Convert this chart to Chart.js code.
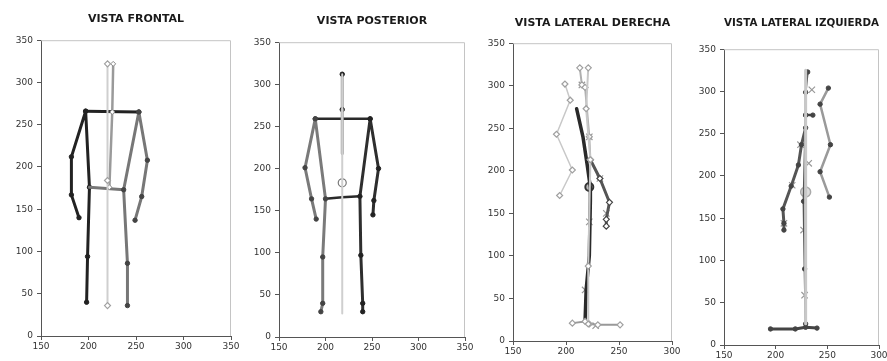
<!DOCTYPE html>
<html>
<head>
<meta charset="utf-8">
<script src="https://cdn.jsdelivr.net/npm/chart.js@4"></script>
<style>
body { margin: 0; background: #fff; width: 887px; height: 361px; position: relative; overflow: hidden; }
canvas { position: absolute; top: 0; filter: blur(0.35px); }
</style>
</head>
<body>
<canvas id="frontal" width="240" height="361" style="left:0px"></canvas>
<canvas id="posterior" width="235" height="361" style="left:240px"></canvas>
<canvas id="derecha" width="205" height="361" style="left:475px"></canvas>
<canvas id="izquierda" width="207" height="361" style="left:680px"></canvas>
<script>
// VISTA FRONTAL
const frontalLeftX = [190, 182, 182, 197, 201, 199, 198];
const frontalLeftY = [140, 167, 212, 266, 176, 94, 40];
const frontalRightX = [249, 256, 262, 253, 237, 241, 241];
const frontalRightY = [137, 165, 208, 265, 173, 86, 36];
const frontalShoulderX = [197, 253];
const frontalShoulderY = [266, 265];
const frontalHipX = [201, 237];
const frontalHipY = [176, 173];
const frontalPlumbX = [220, 220, 220];
const frontalPlumbY = [322, 184, 36];
const frontalSpineX = [226, 225, 222];
const frontalSpineY = [322, 265, 176];

// VISTA POSTERIOR
const posteriorLeftX = [190, 185, 178, 189, 200, 197, 197, 195];
const posteriorLeftY = [140, 164, 201, 259, 164, 95, 40, 30];
const posteriorRightX = [251, 252, 257, 248, 237, 238, 240, 240];
const posteriorRightY = [145, 162, 200, 259, 167, 97, 40, 30];
const posteriorShoulderX = [189, 248];
const posteriorShoulderY = [259, 259];
const posteriorHipX = [200, 218, 237];
const posteriorHipY = [164, 166, 167];
const posteriorPlumbX = [218, 218];
const posteriorPlumbY = [312, 28];
const posteriorHeadX = [218, 218];
const posteriorHeadY = [312, 270];
const posteriorNeckX = [218, 218];
const posteriorNeckY = [270, 218];
const posteriorCogX = [218];
const posteriorCogY = [183];

// VISTA LATERAL DERECHA
const derechaBackX = [199, 204, 191, 206, 194];
const derechaBackY = [302, 283, 243, 201, 171];
const derechaPlumbX = [221, 219, 223, 221, 221];
const derechaPlumbY = [321, 273, 213, 88, 20];
const derechaHeadX = [213, 215, 218, 222, 223];
const derechaHeadY = [321, 301, 298, 240, 213];
const derechaTrunkX = [210, 216, 220, 223, 223, 222, 219, 218];
const derechaTrunkY = [273, 240, 207, 180, 165, 100, 60, 24];
const derechaArmX = [223, 232, 241, 238, 238];
const derechaArmY = [213, 191, 163, 143, 135];
const derechaFootX = [206, 218, 222, 230, 251];
const derechaFootY = [21, 23, 20, 19, 19];
const derechaCrossX = [215, 222, 232, 238, 222, 218, 228];
const derechaCrossY = [301, 240, 191, 150, 140, 60, 18];
const derechaCogX = [222];
const derechaCogY = [181];

// VISTA LATERAL IZQUIERDA
const izquierdaBackX = [251, 243, 253, 243, 252];
const izquierdaBackY = [304, 285, 237, 205, 175];
const izquierdaPlumbX = [229, 229, 229];
const izquierdaPlumbY = [325, 182, 25];
const izquierdaTrunkX = [231, 229, 229, 227, 228, 229];
const izquierdaTrunkY = [323, 299, 272, 170, 90, 25];
const izquierdaNeckX = [229, 236];
const izquierdaNeckY = [272, 272];
const izquierdaArmX = [229, 225, 222, 215, 207, 208, 208];
const izquierdaArmY = [257, 237, 213, 188, 161, 144, 136];
const izquierdaFootX = [195, 219, 229, 240];
const izquierdaFootY = [19, 19, 21, 20];
const izquierdaCrossX = [235, 224, 232, 216, 208, 227, 228];
const izquierdaCrossY = [302, 237, 215, 189, 144, 136, 59];
const izquierdaCogX = [229];
const izquierdaCogY = [181];

const yTicks = [0, 50, 100, 150, 200, 250, 300, 350];

function pts(xs, ys) {
    return xs.map((x, i) => ({ x: x, y: ys[i] }));
}

function series(xs, ys, color, width, marker) {
    marker = marker || {};
    return {
        data: pts(xs, ys),
        showLine: width > 0,
        borderColor: color,
        borderWidth: width,
        borderJoinStyle: 'round',
        borderCapStyle: 'round',
        pointStyle: marker.style || 'circle',
        pointRadius: marker.radius || 0,
        pointBackgroundColor: marker.fill || color,
        pointBorderColor: marker.edge || color,
        pointBorderWidth: marker.edgeWidth || 1,
    };
}

const plotFrame = {
    id: 'plotFrame',
    beforeDatasetsDraw(chart) {
        const a = chart.chartArea;
        const c = chart.ctx;
        c.save();
        c.strokeStyle = '#c4c4c4';
        c.lineWidth = 1;
        c.beginPath();
        c.moveTo(a.left, a.top + 0.5);
        c.lineTo(a.right - 0.5, a.top + 0.5);
        c.lineTo(a.right - 0.5, a.bottom);
        c.stroke();
        c.restore();
    }
};

const tickFont = { family: 'DejaVu Sans', size: 9 };

function makeChart(id, title, xMax, box, datasets) {
    return new Chart(document.getElementById(id), {
        type: 'scatter',
        data: { datasets: datasets },
        plugins: [plotFrame],
        options: {
            responsive: false,
            animation: false,
            events: [],
            layout: { padding: { top: 0, right: box.padRight, bottom: 0, left: 0 } },
            plugins: {
                legend: { display: false },
                tooltip: { enabled: false },
                title: {
                    display: true,
                    text: title,
                    fullSize: false,
                    color: '#1a1a1a',
                    font: { family: 'DejaVu Sans', size: 11, weight: 'bold' },
                    padding: { top: box.titleTop, bottom: box.titleBottom },
                }
            },
            elements: { line: { tension: 0 } },
            scales: {
                x: {
                    type: 'linear',
                    min: 150,
                    max: xMax,
                    afterFit: function(s) { s.height = box.xHeight; s.paddingLeft = 0; s.paddingRight = 0; },
                    ticks: { stepSize: 50, color: '#333', font: tickFont, padding: 1, maxRotation: 0, autoSkip: false },
                    grid: { drawOnChartArea: false, tickLength: 4, color: '#555' },
                    border: { color: '#555', width: 1 },
                },
                y: {
                    type: 'linear',
                    min: 0,
                    max: 350,
                    afterFit: function(s) { s.width = box.yWidth; s.paddingTop = 0; s.paddingBottom = 0; },
                    afterBuildTicks: function(s) { s.ticks = yTicks.map(v => ({ value: v })); },
                    ticks: { color: '#333', font: tickFont, padding: 4 },
                    grid: { drawOnChartArea: false, tickLength: 4, color: '#555' },
                    border: { color: '#555', width: 1 },
                }
            }
        }
    });
}

const dot = { radius: 2.2, fill: '#222', edge: '#222' };
const greyDot = { radius: 2.2, fill: '#444', edge: '#444' };
const diamond = { style: 'rectRot', radius: 3, fill: '#fff', edge: '#a0a0a0', edgeWidth: 1.2 };
const cross = { style: 'crossRot', radius: 4.5, fill: '#999', edge: '#999', edgeWidth: 1.2 };

makeChart('frontal', 'VISTA FRONTAL', 350,
    { yWidth: 41, xHeight: 25, padRight: 9, titleTop: 13, titleBottom: 14 },
    [
        series(frontalPlumbX, frontalPlumbY, '#cfcfcf', 2, diamond),
        series(frontalSpineX, frontalSpineY, '#9a9a9a', 2.5, { style: 'rectRot', radius: 2.5, fill: '#fff', edge: '#888' }),
        series(frontalRightX, frontalRightY, '#777', 3, greyDot),
        series(frontalHipX, frontalHipY, '#777', 3),
        series(frontalLeftX, frontalLeftY, '#222', 3, dot),
        series(frontalShoulderX, frontalShoulderY, '#222', 3, dot),
    ]);

makeChart('posterior', 'VISTA POSTERIOR', 350,
    { yWidth: 39, xHeight: 24, padRight: 10, titleTop: 15, titleBottom: 14 },
    [
        series(posteriorPlumbX, posteriorPlumbY, '#cfcfcf', 2),
        series(posteriorNeckX, posteriorNeckY, '#999', 3),
        series(posteriorHeadX, posteriorHeadY, '#999', 3, dot),
        series(posteriorLeftX, posteriorLeftY, '#7a7a7a', 3, greyDot),
        series(posteriorRightX, posteriorRightY, '#2e2e2e', 3, dot),
        series(posteriorShoulderX, posteriorShoulderY, '#2a2a2a', 2.5, dot),
        series(posteriorHipX, posteriorHipY, '#2a2a2a', 2.5),
        series(posteriorCogX, posteriorCogY, '#888', 0, { radius: 4, fill: '#fff', edge: '#777', edgeWidth: 1.2 }),
    ]);

makeChart('derecha', 'VISTA LATERAL DERECHA', 300,
    { yWidth: 38, xHeight: 20, padRight: 8, titleTop: 17, titleBottom: 13 },
    [
        series(derechaBackX, derechaBackY, '#c8c8c8', 1.5, diamond),
        series(derechaPlumbX, derechaPlumbY, '#c8c8c8', 2, diamond),
        series(derechaHeadX, derechaHeadY, '#b0b0b0', 2, diamond),
        series(derechaFootX, derechaFootY, '#999', 2, diamond),
        series(derechaArmX, derechaArmY, '#555', 3, { style: 'rectRot', radius: 3, fill: '#fff', edge: '#444', edgeWidth: 1.2 }),
        series(derechaTrunkX, derechaTrunkY, '#2a2a2a', 3.5),
        series(derechaCrossX, derechaCrossY, '#999', 0, cross),
        series(derechaCogX, derechaCogY, '#333', 0, { radius: 4, fill: '#bbb', edge: '#333', edgeWidth: 2 }),
    ]);

makeChart('izquierda', 'VISTA LATERAL IZQUIERDA', 300,
    { yWidth: 44, xHeight: 16, padRight: 8, titleTop: 17, titleBottom: 19 },
    [
        series(izquierdaPlumbX, izquierdaPlumbY, '#c8c8c8', 3),
        series(izquierdaBackX, izquierdaBackY, '#9a9a9a', 2.5, greyDot),
        series(izquierdaTrunkX, izquierdaTrunkY, '#555', 2, greyDot),
        series(izquierdaNeckX, izquierdaNeckY, '#444', 2.5, greyDot),
        series(izquierdaArmX, izquierdaArmY, '#555', 3, greyDot),
        series(izquierdaFootX, izquierdaFootY, '#444', 3, greyDot),
        series(izquierdaCrossX, izquierdaCrossY, '#999', 0, cross),
        series(izquierdaCogX, izquierdaCogY, '#aaa', 0, { radius: 5, fill: '#ddd', edge: '#aaa', edgeWidth: 1.5 }),
    ]);
</script>
</body>
</html>
